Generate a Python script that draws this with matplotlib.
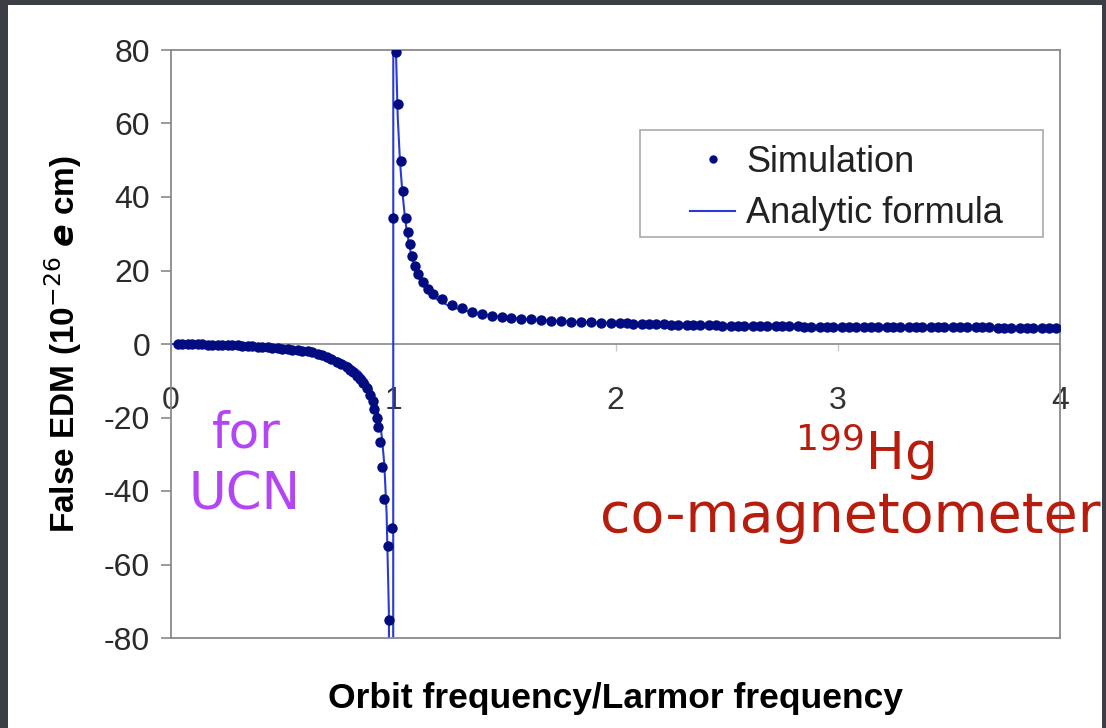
import matplotlib
matplotlib.use('Agg')
import matplotlib.pyplot as plt
from matplotlib.patches import Rectangle

plt.rcParams['font.family'] = ['Liberation Sans', 'DejaVu Sans']
plt.rcParams['axes.unicode_minus'] = False

W, H = 1106, 728

# Simulation points
sim_x = [0.03, 0.05, 0.075, 0.095, 0.12, 0.14, 0.165, 0.185, 0.21, 0.23,
         0.255, 0.275, 0.30, 0.32, 0.345, 0.365, 0.39, 0.41, 0.435, 0.455,
         0.48, 0.50, 0.525, 0.545, 0.57, 0.59, 0.615, 0.635, 0.66, 0.68,
         0.70, 0.72, 0.745, 0.765, 0.79, 0.805, 0.82, 0.835, 0.85, 0.865,
         0.88, 0.895, 0.907, 0.913, 0.925, 0.933, 0.94, 0.949, 0.957, 0.976,
         0.982, 0.994,
         1.0, 1.012, 1.023, 1.035, 1.045, 1.057, 1.068, 1.075, 1.083, 1.098,
         1.113, 1.135, 1.158, 1.18, 1.218, 1.263, 1.308, 1.353, 1.398, 1.443,
         1.488, 1.53, 1.575, 1.62, 1.665, 1.71, 1.755, 1.80, 1.845, 1.89,
         1.935, 1.98,
         2.02, 2.05, 2.08, 2.12, 2.15, 2.18, 2.22, 2.25, 2.28, 2.32,
         2.35, 2.38, 2.42, 2.45, 2.48, 2.52, 2.55, 2.58, 2.62, 2.65,
         2.68, 2.72, 2.75, 2.78, 2.82, 2.85, 2.88, 2.92, 2.95, 2.98,
         3.02, 3.05, 3.08, 3.12, 3.15, 3.18, 3.22, 3.25, 3.28, 3.32,
         3.35, 3.38, 3.42, 3.45, 3.48, 3.52, 3.55, 3.58, 3.62, 3.65,
         3.68, 3.72, 3.75, 3.78, 3.82, 3.85, 3.88, 3.92, 3.95, 3.98]
sim_y = [0.0, 0.0, -0.05, -0.05, -0.1, -0.1, -0.15, -0.15, -0.2, -0.25,
         -0.3, -0.35, -0.4, -0.45, -0.55, -0.6, -0.7, -0.8, -0.9, -1.0,
         -1.1, -1.25, -1.4, -1.5, -1.7, -1.8, -2.0, -2.2, -2.6, -3.0,
         -3.5, -4.0, -4.8, -5.5, -6.3, -7.0, -7.7, -8.6, -9.5, -10.6,
         -12.0, -13.8, -15.4, -17.7, -20.0, -22.7, -26.7, -33.5, -42.2, -55.0,
         -75.0, -50.0,
         34.3, 79.5, 65.3, 49.9, 41.7, 34.3, 30.5, 27.2, 24.0, 21.3,
         19.0, 16.8, 15.0, 13.6, 12.2, 10.6, 9.7, 8.8, 8.2, 7.7,
         7.4, 7.1, 6.9, 6.7, 6.5, 6.35, 6.2, 6.1, 6.0, 5.9,
         5.8, 5.7,
         5.65, 5.6, 5.55, 5.5, 5.45, 5.4, 5.35, 5.3, 5.25, 5.2,
         5.15, 5.1, 5.1, 5.05, 5.0, 5.0, 4.95, 4.95, 4.9, 4.9,
         4.85, 4.85, 4.8, 4.8, 4.8, 4.75, 4.75, 4.75, 4.7, 4.7,
         4.7, 4.65, 4.65, 4.65, 4.65, 4.6, 4.6, 4.6, 4.6, 4.55,
         4.55, 4.55, 4.55, 4.55, 4.5, 4.5, 4.5, 4.5, 4.5, 4.5,
         4.5, 4.45, 4.45, 4.45, 4.45, 4.45, 4.45, 4.4, 4.4, 4.4]

# Analytic curve (clipped at +-80)
ana_x = [0.0, 0.1, 0.2, 0.3, 0.4, 0.5, 0.6, 0.7, 0.75, 0.8,
         0.85, 0.88, 0.9, 0.92, 0.94, 0.95, 0.96, 0.97, 0.98, 0.988,
         0.998, 1.002, 1.012, 1.02, 1.03, 1.04, 1.05, 1.06, 1.08, 1.1,
         1.12, 1.15, 1.2, 1.25, 1.3, 1.4, 1.5, 1.6, 1.8, 2.0,
         2.25, 2.5, 2.75, 3.0, 3.5, 4.0]
ana_y = [0.0, -0.04, -0.15, -0.35, -0.65, -1.1, -1.8, -3.0, -3.9, -5.3,
         -7.6, -9.8, -12.0, -15.5, -21.0, -26.0, -33.0, -46.0, -72.0, -150.0,
         -900.0, 900.0, 80.0, 62.0, 50.0, 42.0, 36.0, 31.0, 24.5, 20.5,
         17.5, 14.7, 12.0, 10.4, 9.4, 8.0, 7.3, 6.7, 6.1, 5.7,
         5.3, 5.0, 4.85, 4.72, 4.55, 4.45]

x_ticks = [0, 1, 2, 3, 4]
y_ticks = [-80, -60, -40, -20, 0, 20, 40, 60, 80]

fig = plt.figure(figsize=(W / 100, H / 100), dpi=100)
fig.patch.set_facecolor('#3b3e45')
fig.patches.append(Rectangle((8 / W, 0), 1094 / W, 723 / H, transform=fig.transFigure,
                             facecolor='white', edgecolor='none', zorder=-10))

ax = fig.add_axes([171 / W, 1 - 638 / H, 889 / W, 588 / H])
ax.set_facecolor('white')
grey = '#8a8a8a'
for s in ax.spines.values():
    s.set_color(grey)
    s.set_linewidth(1.3)

ax.plot(ana_x, ana_y, color='#2a3ad8', lw=1.5, label='Analytic formula', zorder=2)
ax.plot(sim_x, sim_y, 'o', color='#000c80', ms=7.5, mew=0, label='Simulation', zorder=3)

ax.set_xlim(0, 4)
ax.set_ylim(-80, 80)
ax.set_yticks(y_ticks)
ax.set_yticklabels([str(v) for v in y_ticks])
ax.tick_params(axis='y', direction='out', length=7, width=1.2, color=grey,
               labelsize=23, labelcolor='#2a2a2a', pad=8)
ax.set_xticks([])

# x axis sitting on the zero line
sec = ax.secondary_xaxis(0.5)
sec.set_alignment('bottom')
sec.spines['bottom'].set_color(grey)
sec.spines['bottom'].set_linewidth(1.2)
sec.set_xticks(x_ticks)
sec.set_xticklabels([str(v) for v in x_ticks])
sec.tick_params(axis='x', direction='out', length=5, width=1, color='#c8c8c8',
                labelsize=23, labelcolor='#333333', pad=25)

ax.set_ylabel('False EDM (10$^{-26}$ $\\mathbfit{e}$ cm)', fontsize=24, fontweight='bold')
ax.yaxis.set_label_coords(-0.098, 0.5)
ax.set_xlabel('Orbit frequency/Larmor frequency', fontsize=25.5, fontweight='bold')
ax.xaxis.set_label_coords(0.5, -0.075)

# legend frame drawn separately (wide side padding as in the original)
ax.add_patch(Rectangle(((640 - 171) / 889, (638 - 237) / 588), 403 / 889, 107 / 588,
                       transform=ax.transAxes, facecolor='white', edgecolor='#aaaaaa',
                       lw=1.2, zorder=4))
h, l = ax.get_legend_handles_labels()
leg = ax.legend(h[::-1], l[::-1], loc='upper left', bbox_to_anchor=(0.5838, 0.8384),
                borderaxespad=0, borderpad=0, fontsize=26, frameon=False,
                handlelength=1.25, labelspacing=0.45, handletextpad=0.3, markerscale=0.8)
leg.set_zorder(5)
for t in leg.get_texts():
    t.set_color('#222222')

purple = '#b445f5'
red = '#b81c0c'
fig.text(246 / W, 1 - 447 / H, 'for', color=purple, fontsize=36,
         family='DejaVu Sans', ha='center', va='baseline')
fig.text(245 / W, 1 - 510 / H, 'UCN', color=purple, fontsize=37,
         family='DejaVu Sans', ha='center', va='baseline')
fig.text(865 / W, 1 - 470 / H, '$^{199}$Hg', color=red, fontsize=37,
         family='DejaVu Sans', ha='center', va='baseline')
fig.text(600 / W, 1 - 532 / H, 'co-magnetometer', color=red, fontsize=40,
         family='DejaVu Sans', ha='left', va='baseline')

fig.savefig('out.png', dpi=100, facecolor=fig.get_facecolor())
